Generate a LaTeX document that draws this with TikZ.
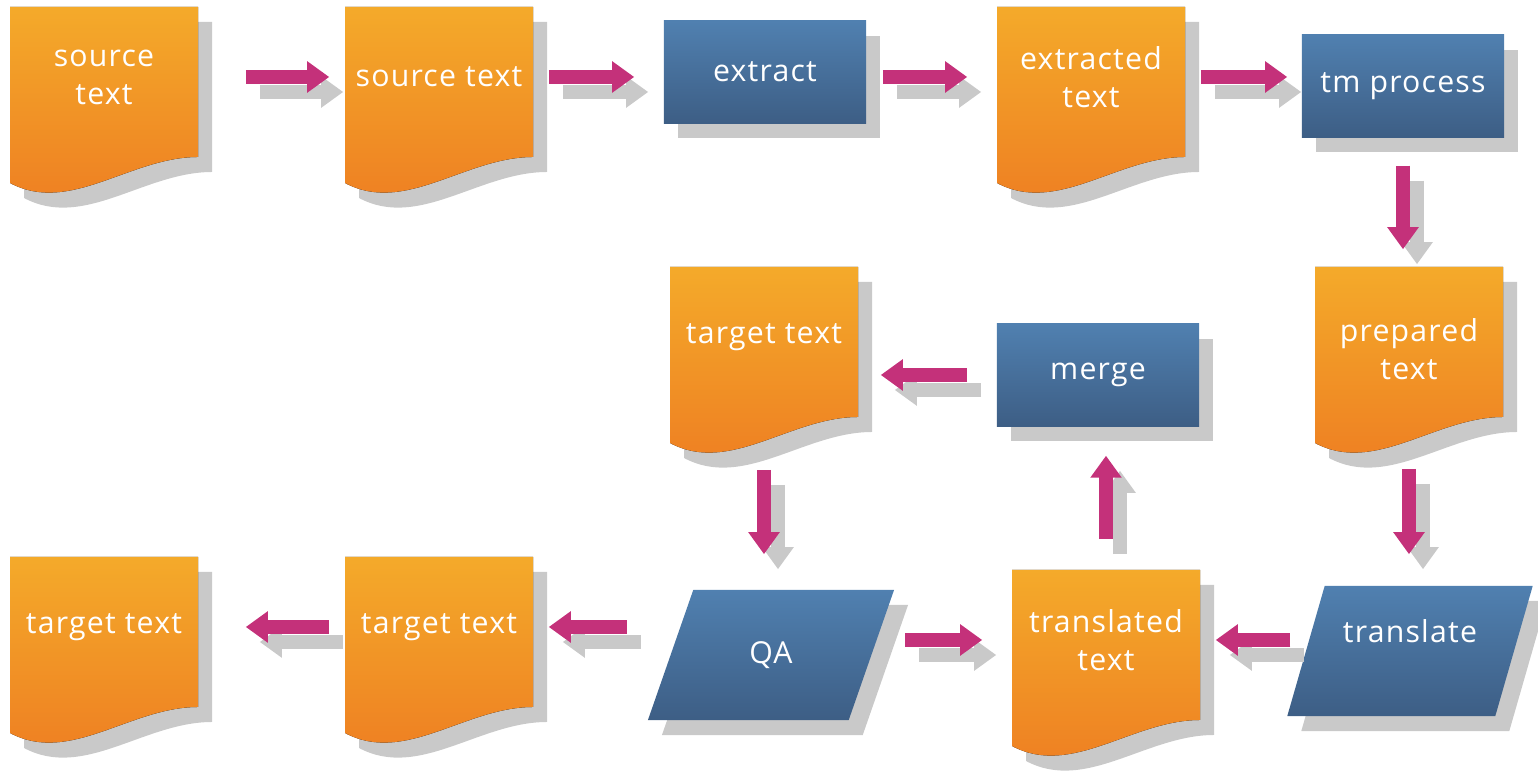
\documentclass[tikz,border=0pt]{standalone}
\usepackage{fontspec}
\setmainfont[LetterSpace=4]{Open Sans}
\usetikzlibrary{positioning,shapes.geometric,shadows,arrows.meta}

\definecolor{docTop}{HTML}{F4AA2A}
\definecolor{docBot}{HTML}{EE7D22}
\definecolor{boxTop}{HTML}{5080B0}
\definecolor{boxBot}{HTML}{3D5E85}
\definecolor{flowPink}{HTML}{C4317A}
\definecolor{shadowGray}{HTML}{C9C9C9}

\tikzset{
  shadowed/.style={drop shadow={shadow xshift=0.14cm, shadow yshift=-0.15cm,
      fill=shadowGray, opacity=1}},
  docfill/.style={top color=docTop, bottom color=docBot, shadowed},
  doclabel/.style={text=white, align=center, inner sep=0pt,
      minimum width=1.88cm, minimum height=1.4cm},
  stepbox/.style={rectangle, top color=boxTop, bottom color=boxBot, text=white,
      shadowed, inner sep=0pt, minimum width=2.02cm, minimum height=1.02cm},
  slantbox/.style={trapezium, trapezium left angle=65, trapezium right angle=115,
      trapezium stretches=true, top color=boxTop, bottom color=boxBot,
      text=white, shadowed, inner sep=0pt,
      minimum width=2.46cm, minimum height=1.3cm},
  flow/.style={draw=flowPink, line width=0.14cm,
      -{Triangle[length=0.22cm,width=0.3cm]}},
  flowshade/.style={flow, draw=shadowGray,
      transform canvas={xshift=0.14cm,yshift=-0.15cm}}
}

% document page: name, left, top, text
\newcommand{\docpage}[5][]{%
  \fill[docfill, shift={(#3,#4)}] (0,0) -- (188,0) -- (188,150)
    .. controls (120,150) and (60,208) .. (0,176) -- cycle;
  \node[doclabel,#1] (#2) at (#3+94,#4+70) {#5};
}
% block arrow with its shadow
\newcommand{\flowarrow}[3]{%
  \draw[flowshade,#1] #2 -- #3;
  \draw[flow,#1] #2 -- #3;
}

\begin{document}
\begin{tikzpicture}[x=0.01cm, y=-0.01cm,
    font=\fontsize{8.6}{10.8}\selectfont]
  \useasboundingbox (0,0) rectangle (1538,771);

  % top row
  \docpage{src1}{10}{7}{source\\text}
  \docpage{src2}{345}{7}{source text}
  \node[stepbox] (extract) at (765,72) {extract};
  \docpage{xtext}{997}{7}{extracted\\text}
  \node[stepbox] (tmproc) at (1403,86) {tm process};

  % middle row
  \docpage[yshift=-0.12cm]{prep}{1315}{267}{prepared\\text}
  \docpage{midtgt}{670}{267}{target text}
  \node[stepbox] (merge) at (1098,375) {merge};

  % bottom row
  \node[slantbox, text depth=0.4cm] (translate) at (1410,651) {translate};
  \docpage{trans}{1012}{570}{translated\\text}
  \node[slantbox] (qa) at (771,655) {QA};
  \docpage{tgt2}{345}{557}{target text}
  \docpage{tgt1}{10}{557}{target text}

  \flowarrow{shorten <=0.47cm, shorten >=0.15cm}{(src1.east)}{(src1.east -| src2.west)}
  \flowarrow{shorten <=0.15cm, shorten >=0.29cm}{(src2.east)}{(src2.east -| extract.west)}
  \flowarrow{shorten <=0.16cm, shorten >=0.29cm}{(extract.east |- xtext.west)}{(xtext.west)}
  \flowarrow{shorten <=0.15cm, shorten >=0.14cm}{(xtext.east)}{(xtext.east -| tmproc.west)}
  \flowarrow{shorten <=0.28cm, shorten >=0.29cm}{(tmproc.south)}{(tmproc.south |- prep.north)}
  \flowarrow{shorten <=0.49cm, shorten >=0.31cm}{(prep.south)}{(prep.south |- translate.north)}
  \flowarrow{shorten <=0.15cm, shorten >=0.15cm}{(translate.west |- trans.east)}{(trans.east)}
  \flowarrow{shorten <=0.33cm, shorten >=0.29cm}{(trans.west -| qa.east)}{(trans.west)}
  \flowarrow{shorten <=0.29cm, shorten >=0.22cm}{(merge.west)}{(merge.west -| midtgt.east)}
  \flowarrow{shorten <=0.30cm, shorten >=0.29cm}{(trans.north)}{(trans.north |- merge.south)}
  \flowarrow{shorten <=0.62cm, shorten >=0.35cm}{(midtgt.south)}{(midtgt.south |- qa.north)}
  \flowarrow{shorten <=0.43cm, shorten >=0.15cm}{(tgt2.east -| qa.west)}{(tgt2.east)}
  \flowarrow{shorten <=0.15cm, shorten >=0.47cm}{(tgt2.west)}{(tgt2.west -| tgt1.east)}
\end{tikzpicture}
\end{document}
